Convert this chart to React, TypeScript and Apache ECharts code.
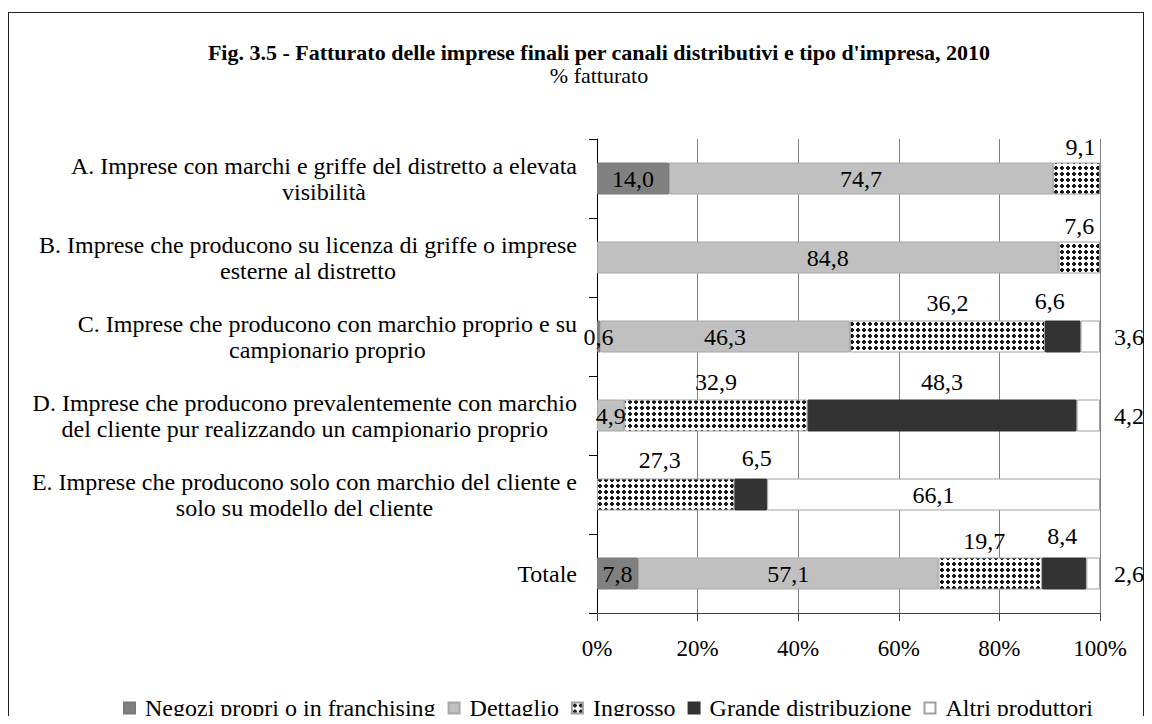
import React, { useEffect, useRef } from "react";
import * as echarts from "echarts";

// ---- data ----
const categories = [
  "A. Imprese con marchi e griffe del distretto a elevata\nvisibilità",
  "B. Imprese che producono su licenza di griffe o imprese\nesterne al distretto",
  "C. Imprese che producono con marchio proprio e su\ncampionario proprio",
  "D. Imprese che producono prevalentemente con marchio\ndel cliente pur realizzando un campionario proprio",
  "E. Imprese che producono solo con marchio del cliente e\nsolo su modello del cliente",
  "Totale",
];
const seriesNames = [
  "Negozi propri o in franchising",
  "Dettaglio",
  "Ingrosso",
  "Grande distribuzione",
  "Altri produttori",
];
const negozi: (number | null)[] = [14.0, null, 0.6, null, null, 7.8];
const dettaglio: (number | null)[] = [74.7, 84.8, 46.3, 4.9, null, 57.1];
const ingrosso: (number | null)[] = [9.1, 7.6, 36.2, 32.9, 27.3, 19.7];
const grande: (number | null)[] = [null, null, 6.6, 48.3, 6.5, 8.4];
const altri: (number | null)[] = [null, null, 3.6, 4.2, 66.1, 2.6];
const xTickValues = [0, 20, 40, 60, 80, 100];

// ---- styles ----
const FONT = "Liberation Serif";
const FS = 24;
const fills = ["#808080", "#c0c0c0", "PATTERN", "#333333", "#ffffff"];
const borders = ["#7a7a7a", "#a8a8a8", "#a0a0a0", "#333333", "#a0a0a0"];
// label placement per series / category
const LABEL_POS = [
  ["inside", "inside", "inside", "inside", "inside", "inside"],
  ["inside", "inside", "inside", "inside", "inside", "inside"],
  ["top", "top", "top", "top", "top", "top"],
  ["top", "top", "top", "top", "top", "top"],
  ["right", "right", "right", "right", "inside", "right"],
];
const LABEL_OFFSET: Record<string, [number, number]> = {
  "2-0": [4, 2],
  "2-1": [0, 2],
  "3-2": [-13, -2],
  "2-5": [-6, 1],
  "2-4": [-6, -1],
  "3-4": [6, -3],
  "3-5": [-2, -4],
};

function makePattern() {
  const c = document.createElement("canvas");
  c.width = 6;
  c.height = 6;
  const ctx = c.getContext("2d")!;
  ctx.fillStyle = "#ffffff";
  ctx.fillRect(0, 0, 6, 6);
  ctx.fillStyle = "#1a1a1a";
  ctx.fillRect(2, 1, 2, 1);
  ctx.fillRect(1, 2, 4, 2);
  ctx.fillRect(2, 4, 2, 1);
  return c;
}

function fmt(v: number) {
  return v.toFixed(1).replace(".", ",");
}

export default function App() {
  const ref = useRef<HTMLDivElement>(null);
  useEffect(() => {
    const chart = echarts.init(ref.current!, null, { renderer: "svg" });
    const pattern = { image: makePattern(), repeat: "repeat" };
    const raw = [negozi, dettaglio, ingrosso, grande, altri];
    const totals = categories.map((_, ci) =>
      raw.reduce((s, arr) => s + (arr[ci] ?? 0), 0)
    );
    const series = raw.map((arr, si) => ({
      type: "bar",
      name: seriesNames[si],
      stack: "total",
      barWidth: 32,
      itemStyle: {
        color: fills[si] === "PATTERN" ? pattern : fills[si],
        borderColor: borders[si],
        borderWidth: 1,
      },
      label: {
        show: true,
        color: "#000",
        fontFamily: FONT,
        fontSize: FS,
        formatter: (p: any) => (p.data && p.data.raw != null ? fmt(p.data.raw) : ""),
      },
      data: arr.map((v, ci) => {
        if (v == null) return null;
        const pos = LABEL_POS[si][ci];
        return {
          value: (v / totals[ci]) * 100,
          raw: v,
          label: {
            position: pos,
            distance: pos === "right" ? 14 : 6,
            offset: LABEL_OFFSET[`${si}-${ci}`] || [0, 0],
          },
        };
      }),
    }));

    chart.setOption({
      animation: false,
      title: [
        {
          text: "Fig. 3.5 - Fatturato delle imprese finali per canali distributivi e tipo d'impresa, 2010",
          left: 585,
          top: 27,
          textAlign: "center",
          textStyle: { fontFamily: FONT, fontSize: 22, fontWeight: "bold", color: "#000" },
        },
        {
          text: "% fatturato",
          left: 585,
          top: 50,
          textAlign: "center",
          textStyle: { fontFamily: FONT, fontSize: 22, fontWeight: "normal", color: "#000" },
        },
      ],
      legend: {
        data: seriesNames,
        left: 114,
        top: 687,
        padding: 0,
        itemWidth: 11,
        itemHeight: 11,
        itemGap: 12,
        icon: "rect",
        formatter: (name: string) => `{t|${name}}`,
        textStyle: {
          fontFamily: FONT,
          fontSize: FS,
          color: "#000",
          rich: {
            t: { fontFamily: FONT, fontSize: FS, color: "#000", lineHeight: 24, padding: [0, 0, 0, 5] },
          },
        },
      },
      grid: { left: 588, right: 43, top: 130, bottom: 111, containLabel: false },
      xAxis: {
        type: "value",
        min: xTickValues[0],
        max: xTickValues[xTickValues.length - 1],
        interval: xTickValues[1] - xTickValues[0],
        axisLine: { show: true, lineStyle: { color: "#404040", width: 1 } },
        axisTick: { show: true, length: 8, lineStyle: { color: "#404040" } },
        splitLine: { show: true, lineStyle: { color: "#808080", width: 1 } },
        axisLabel: {
          formatter: "{value}%",
          fontFamily: FONT,
          fontSize: 23,
          color: "#000",
          margin: 24,
        },
      },
      yAxis: {
        type: "category",
        data: categories,
        inverse: true,
        axisLine: { show: true, lineStyle: { color: "#000", width: 1 } },
        axisTick: { show: true, length: 8, lineStyle: { color: "#000" } },
        axisLabel: {
          interval: 0,
          margin: 20,
          fontFamily: FONT,
          fontSize: FS,
          color: "#000",
          lineHeight: 26,
          formatter: (v: string) =>
            v
              .split("\n")
              .map((l) => `{c|${l}}`)
              .join("\n"),
          rich: {
            c: { align: "center", fontFamily: FONT, fontSize: FS, color: "#000", lineHeight: 26 },
          },
        },
      },
      series,
    });
    return () => chart.dispose();
  }, []);

  const line = "#222";
  return (
    <div style={{ position: "relative", width: 1136, height: 708, background: "#fff" }}>
      <div style={{ position: "absolute", left: 0, top: 4, width: 1136, height: 1, background: line }} />
      <div style={{ position: "absolute", left: 0, top: 4, width: 1, height: 704, background: line }} />
      <div style={{ position: "absolute", left: 1135, top: 4, width: 1, height: 704, background: line }} />
      <div ref={ref} style={{ position: "absolute", left: 1, top: 1, width: 1134, height: 715 }} />
    </div>
  );
}
